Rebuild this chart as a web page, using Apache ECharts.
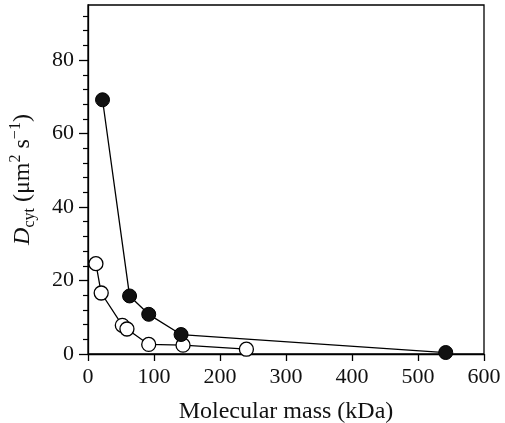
<!DOCTYPE html>
<html lang="en">
<head>
    <meta charset="UTF-8">
    <title>Dcyt vs molecular mass</title>
    <script src="https://cdn.jsdelivr.net/npm/echarts@6/dist/echarts.min.js"></script>
</head>
<body style="margin:0">
<div id="chart" style="width: 505px; height: 423px"></div>
<script>
    // filled circles
    var filledMass = [22, 63, 92, 141, 542];
    var filledD = [69.2, 15.8, 10.8, 5.3, 0.4];
    // open circles
    var openMass = [12, 20, 52, 59, 92, 144, 240];
    var openD = [24.6, 16.6, 7.8, 6.8, 2.6, 2.4, 1.3];

    var xTicks = [0, 100, 200, 300, 400, 500, 600];
    var yMajor = [0, 20, 40, 60, 80];
    var yMinor = [4, 8, 12, 16, 24, 28, 32, 36, 44, 48, 52, 56, 64, 68, 72, 76, 84, 88, 92];

    function pairs(xs, ys) {
        var out = [];
        for (var i = 0; i < xs.length; i++) {
            out.push([xs[i], ys[i]]);
        }
        return out;
    }

    var font = 'Liberation Serif';
    var chart = echarts.init(document.getElementById('chart'));
    var option = {
        animation: false,
        grid: {
            left: 88, right: 21, top: 5, bottom: 69,
            outerBoundsMode: 'none',
            containLabel: false,
            show: true, borderColor: '#000', borderWidth: 1.3
        },
        xAxis: {
            type: 'value',
            min: 0, max: 600,
            name: 'Molecular mass (kDa)',
            nameLocation: 'middle',
            nameGap: 46,
            nameTextStyle: {fontFamily: font, fontSize: 24, color: '#111'},
            axisLine: {lineStyle: {color: '#000', width: 1.3}},
            axisTick: {length: 7, customValues: xTicks, lineStyle: {color: '#000', width: 1.3}},
            axisLabel: {fontFamily: font, fontSize: 22, color: '#111', margin: 12, customValues: xTicks},
            splitLine: {show: false}
        },
        yAxis: [{
            type: 'value',
            min: 0, max: 95,
            name: '{i|D}{sub|cyt} (μm{sup|2} s{sup|−1})',
            nameLocation: 'middle',
            nameGap: 50,
            nameTextStyle: {
                fontFamily: font, fontSize: 24, color: '#111',
                rich: {
                    i: {fontFamily: font, fontSize: 24, fontStyle: 'italic', color: '#111', lineHeight: 30},
                    sub: {fontFamily: font, fontSize: 16, color: '#111', lineHeight: 16, verticalAlign: 'bottom'},
                    sup: {fontFamily: font, fontSize: 16, color: '#111', lineHeight: 16, verticalAlign: 'top'}
                }
            },
            axisLine: {lineStyle: {color: '#000', width: 1.3}},
            axisTick: {length: 9, customValues: yMajor, lineStyle: {color: '#000', width: 1.3}},
            axisLabel: {fontFamily: font, fontSize: 22, color: '#111', margin: 14, customValues: yMajor},
            splitLine: {show: false}
        }, {
            type: 'value',
            position: 'left',
            min: 0, max: 95,
            axisLine: {show: false},
            axisTick: {length: 5, customValues: yMinor, lineStyle: {color: '#000', width: 1.2}},
            axisLabel: {show: false},
            splitLine: {show: false}
        }],
        series: [{
            type: 'line',
            data: pairs(openMass, openD),
            symbol: 'circle',
            symbolSize: 14,
            lineStyle: {color: '#000', width: 1.3},
            itemStyle: {color: '#fff', borderColor: '#000', borderWidth: 1.3}
        }, {
            type: 'line',
            data: pairs(filledMass, filledD),
            symbol: 'circle',
            symbolSize: 14,
            lineStyle: {color: '#000', width: 1.3},
            itemStyle: {color: '#111', borderColor: '#000', borderWidth: 1}
        }]
    };
    chart.setOption(option);
</script>
</body>
</html>
